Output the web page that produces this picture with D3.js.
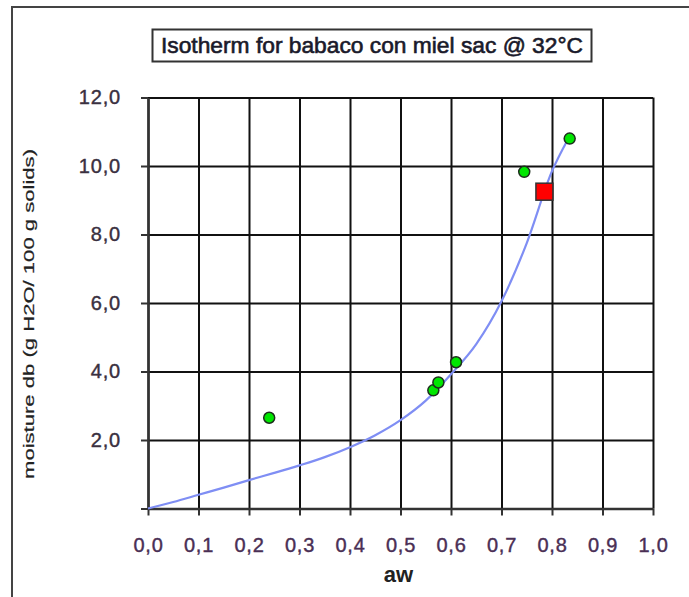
<!DOCTYPE html>
<html>
<head>
<meta charset="utf-8">
<script src="https://cdn.jsdelivr.net/npm/d3@7"></script>
<style>
  body { margin: 0; background: #fff; }
  svg { display: block; font-family: "Liberation Sans", Arial, sans-serif; }
</style>
</head>
<body>
<svg id="chart" width="689" height="597"></svg>
<script>
// measured points (aw, moisture db)
var awPoints = [0.24, 0.565, 0.575, 0.61, 0.745, 0.835];
var mPoints = [2.65, 3.45, 3.68, 4.27, 9.83, 10.8];

// highlighted point
var awMark = [0.785];
var mMark = [9.25];

// fitted isotherm curve
var awCurve = [0, 0.05, 0.1, 0.15, 0.2, 0.25, 0.3, 0.35, 0.4, 0.45, 0.5, 0.55, 0.6, 0.65, 0.7, 0.75, 0.8, 0.83];
var mCurve = [0, 0.19, 0.4, 0.61, 0.83, 1.04, 1.26, 1.5, 1.79, 2.14, 2.58, 3.15, 3.92, 4.8, 6.05, 7.75, 9.85, 10.74];

var xTicks = [0, 0.1, 0.2, 0.3, 0.4, 0.5, 0.6, 0.7, 0.8, 0.9, 1.0];
var yTicks = [0, 2, 4, 6, 8, 10, 12];

var titleText = "Isotherm for babaco con miel sac @ 32\u00B0C";
var xTitle = "aw";
var yTitle = "moisture db  (g H2O/ 100 g solids)";

var svg = d3.select("#chart");

var x = d3.scaleLinear().domain([0, 1]).range([148, 653]);
var y = d3.scaleLinear().domain([0, 12]).range([508.5, 97.5]);

var comma = function(d) { return d3.format(".1f")(d).replace(".", ","); };

// outer chart frame
svg.append("path")
    .attr("d", "M12,597 L12,7 L689,7")
    .attr("fill", "none")
    .attr("stroke", "#444")
    .attr("stroke-width", 2);

// title box
var tg = svg.append("g");
tg.append("rect")
    .attr("x", 152.5).attr("y", 29.5)
    .attr("width", 439).attr("height", 32)
    .attr("fill", "#fff")
    .attr("stroke", "#333")
    .attr("stroke-width", 2);
tg.append("text")
    .attr("x", 372).attr("y", 53)
    .attr("text-anchor", "middle")
    .attr("font-size", 22)
    .attr("fill", "#1a1a2a")
    .attr("stroke", "#1a1a2a")
    .attr("stroke-width", 0.6)
    .attr("textLength", 422)
    .attr("lengthAdjust", "spacingAndGlyphs")
    .text(titleText);

// gridlines
svg.append("g")
    .attr("transform", "translate(0," + y(0) + ")")
    .call(d3.axisBottom(x).tickValues(xTicks).tickSize(-(y(0) - y(12))).tickFormat(""))
    .call(g => g.select(".domain").remove())
    .call(g => g.selectAll("line").attr("stroke", "#111").attr("stroke-width", 2));

svg.append("g")
    .attr("transform", "translate(" + x(0) + ",0)")
    .call(d3.axisLeft(y).tickValues(yTicks).tickSize(-(x(1) - x(0))).tickFormat(""))
    .call(g => g.select(".domain").remove())
    .call(g => g.selectAll("line").attr("stroke", "#111").attr("stroke-width", 2));

// axes
var xAxis = svg.append("g")
    .attr("transform", "translate(0," + y(0) + ")")
    .call(d3.axisBottom(x).tickValues(xTicks).tickSize(7).tickSizeOuter(0).tickPadding(22).tickFormat(comma));
xAxis.select(".domain").attr("stroke", "#333").attr("stroke-width", 2.5);
xAxis.selectAll("line").attr("stroke", "#333").attr("stroke-width", 2);
xAxis.selectAll("text")
    .attr("font-size", 20)
    .attr("font-family", "Liberation Sans, Arial, sans-serif")
    .attr("letter-spacing", 0.8)
    .attr("fill", "#4a2f55")
    .attr("stroke", "#4a2f55")
    .attr("stroke-width", 0.4);

var yAxis = svg.append("g")
    .attr("transform", "translate(" + x(0) + ",0)")
    .call(d3.axisLeft(y).tickValues(yTicks).tickSize(7).tickSizeOuter(0).tickPadding(20)
        .tickFormat(d => d === 0 ? "" : comma(d)));
yAxis.select(".domain").attr("stroke", "#333").attr("stroke-width", 2.5);
yAxis.selectAll("line").attr("stroke", "#333").attr("stroke-width", 2);
yAxis.selectAll("text")
    .attr("font-size", 20)
    .attr("font-family", "Liberation Sans, Arial, sans-serif")
    .attr("letter-spacing", 0.8)
    .attr("fill", "#3a3040")
    .attr("stroke", "#3a3040")
    .attr("stroke-width", 0.4);

// axis titles
svg.append("text")
    .attr("x", (x(0) + x(1)) / 2 - 2)
    .attr("y", 582)
    .attr("text-anchor", "middle")
    .attr("font-size", 22)
    .attr("font-weight", "bold")
    .attr("fill", "#222")
    .text(xTitle);

svg.append("text")
    .attr("transform", "translate(34,314) rotate(-90)")
    .attr("text-anchor", "middle")
    .attr("font-size", 15)
    .attr("fill", "#222")
    .attr("stroke", "#222")
    .attr("stroke-width", 0.2)
    .attr("textLength", 330)
    .attr("lengthAdjust", "spacingAndGlyphs")
    .text(yTitle);

// isotherm curve
var line = d3.line()
    .x((d, i) => x(awCurve[i]))
    .y((d, i) => y(mCurve[i]))
    .curve(d3.curveMonotoneX);

svg.append("path")
    .datum(mCurve)
    .attr("d", line)
    .attr("fill", "none")
    .attr("stroke", "#7f8ef4")
    .attr("stroke-width", 2.2);

// measured points
svg.append("g")
    .selectAll("circle")
    .data(mPoints)
    .enter()
    .append("circle")
      .attr("cx", (d, i) => x(awPoints[i]))
      .attr("cy", d => y(d))
      .attr("r", 5.5)
      .attr("fill", "#00e600")
      .attr("stroke", "#1c2e1c")
      .attr("stroke-width", 1.5);

// highlighted point
svg.append("g")
    .selectAll("rect")
    .data(mMark)
    .enter()
    .append("rect")
      .attr("x", (d, i) => x(awMark[i]) - 8.5)
      .attr("y", d => y(d) - 8.5)
      .attr("width", 17)
      .attr("height", 17)
      .attr("fill", "#ff0000")
      .attr("stroke", "#333")
      .attr("stroke-width", 1.5);
</script>
</body>
</html>
